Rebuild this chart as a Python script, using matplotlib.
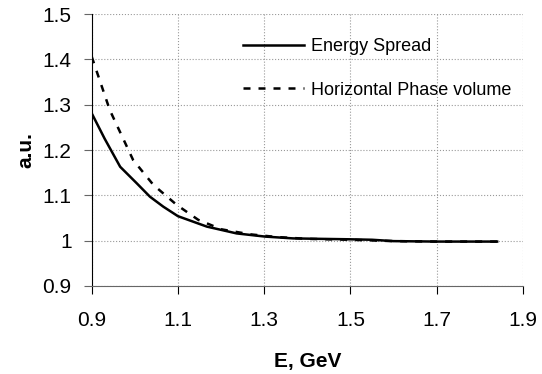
import matplotlib.pyplot as plt
import numpy as np

plt.rcParams['font.family'] = ['Liberation Sans', 'DejaVu Sans']

# Energy spread vs energy
E_spread = np.array([0.90, 0.93, 0.966, 1.004, 1.035, 1.066, 1.10, 1.167, 1.236,
                     1.302, 1.367, 1.43, 1.50, 1.55, 1.60, 1.70, 1.78, 1.84])
spread = np.array([1.281, 1.225, 1.163, 1.127, 1.097, 1.075, 1.054, 1.031, 1.016,
                   1.009, 1.005, 1.004, 1.003, 1.002, 0.999, 0.998, 0.998, 0.998])

# Horizontal phase volume vs energy
E_phase = np.array([0.90, 0.942, 0.996, 1.043, 1.097, 1.147, 1.201, 1.267,
                    1.33, 1.40, 1.50, 1.60, 1.70, 1.84])
phase = np.array([1.406, 1.288, 1.178, 1.123, 1.079, 1.046, 1.025, 1.014,
                  1.008, 1.004, 1.002, 0.999, 0.998, 0.998])

xticks = [0.9, 1.1, 1.3, 1.5, 1.7, 1.9]
yticks = [0.9, 1.0, 1.1, 1.2, 1.3, 1.4, 1.5]
ylabels = ['0.9', '1', '1.1', '1.2', '1.3', '1.4', '1.5']

fig = plt.figure(figsize=(5.42, 3.74), dpi=100)
ax = fig.add_axes([91.7 / 542, 1 - 286 / 374, (523 - 91.7) / 542, (286 - 14) / 374])

ax.plot(E_spread, spread, color='black', lw=1.8, label='Energy Spread')
ax.plot(E_phase, phase, color='black', lw=1.8, linestyle=(0, (2.8, 3.2)),
        label='Horizontal Phase volume')

ax.set_xlim(0.9, 1.9)
ax.set_ylim(0.9, 1.5)
ax.set_xticks(xticks)
ax.set_xticklabels([f'{v:.1f}' for v in xticks])
ax.set_yticks(yticks)
ax.set_yticklabels(ylabels)
ax.tick_params(labelsize=15, length=6, direction='out')
ax.tick_params(axis='x', pad=12)
ax.tick_params(axis='y', pad=8.5, color='#666666')
ax.grid(True, color='#999999', linestyle=':', linewidth=0.8)
ax.spines['top'].set_visible(False)
ax.spines['right'].set_visible(False)
ax.spines['bottom'].set_color('#666666')

ax.set_xlabel('E, GeV', fontsize=15, fontweight='bold', labelpad=16)
ax.set_ylabel('a.u.', fontsize=15, fontweight='bold', labelpad=5)

ax.legend(loc='upper left', bbox_to_anchor=(0.351, 0.91), frameon=False,
          borderpad=0, borderaxespad=0, fontsize=13, handlelength=3.4,
          handletextpad=0.37, labelspacing=1.45)

fig.savefig('out.png', dpi=100)
